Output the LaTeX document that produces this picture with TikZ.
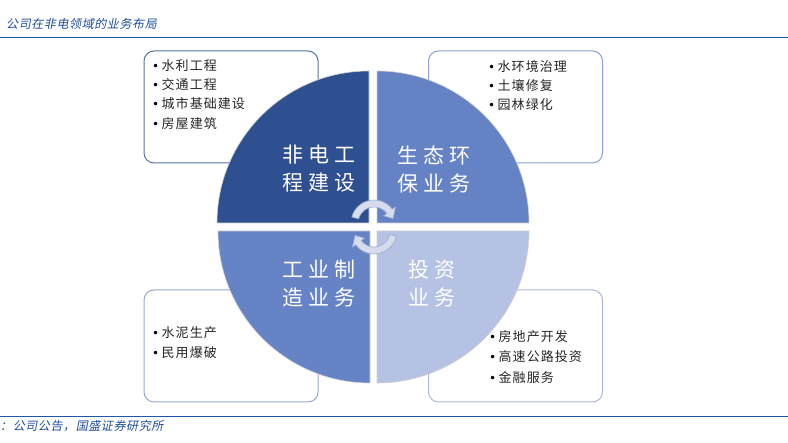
\documentclass[tikz,border=0pt]{standalone}
\usepackage{fontspec}
\setmainfont{Noto Sans CJK SC}
\newfontfamily\cjkq[LetterSpace=22]{Noto Sans CJK SC}
\newfontfamily\cjkb[LetterSpace=8]{Noto Sans CJK SC}
\newfontfamily\cjkt[FakeSlant=0.2,LetterSpace=5]{Noto Sans CJK SC}
\newfontfamily\bulfont{DejaVu Sans}
\newcommand\mybul{\makebox[9.5pt][l]{\raisebox{0.3pt}{\color{black}\bulfont\fontsize{12}{12}\selectfont •}}}
\definecolor{qone}{HTML}{2E5090}
\definecolor{qtwo}{HTML}{6482C4}
\definecolor{qthree}{HTML}{6683C6}
\definecolor{qfour}{HTML}{B5C2E3}
\definecolor{titleblue}{HTML}{1F4E9C}
\definecolor{ruleblue}{HTML}{1F56A8}
\definecolor{arrfill}{HTML}{D5DCEE}
\definecolor{arrline}{HTML}{9AAAD2}
\begin{document}
\begin{tikzpicture}[x=1pt,y=1pt,
  quadtext/.style={text=white, font={\cjkq\fontsize{21}{28}\selectfont}, align=center, inner sep=0pt},
  listtext/.style={anchor=west, inner sep=0pt, text=black!85, font={\cjkb\fontsize{13}{16}\selectfont}},
  infobox/.style={rounded corners=10pt, line width=1pt, fill=white, minimum width=174pt, minimum height=112pt, inner sep=0pt},
  quad/.style={draw=black!18, line width=0.6pt},
  circarrow/.style={fill=arrfill, draw=arrline, line width=0.6pt, line join=round},
  captext/.style={anchor=west, inner sep=0pt, text=titleblue, font={\cjkt\fontsize{12}{14}\selectfont}}
]
\useasboundingbox (0,0) rectangle (788,443);
\fill[white] (0,0) rectangle (788,443);

% header and footer
\node[captext] (title) at (6,419) {公司在非电领域的业务布局};
\draw[ruleblue, line width=1.8pt] (0,405.5) -- (788,405.5);
\draw[ruleblue, line width=1.8pt] (0,26.5) -- (788,26.5);
\node[captext] (source) at (0,17) {：公司公告，国盛证券研究所};

% info boxes
\node[infobox, draw=qone!80] (boxtl) at (231,336) {};
\node[infobox, draw=qtwo!75] (boxtr) at (515.5,336) {};
\node[infobox, draw=qthree!70] (boxbl) at (231,97) {};
\node[infobox, draw=qfour!95!black] (boxbr) at (515.5,97) {};

% list texts
\node[listtext] (l11) at (152,377) {\mybul 水利工程};
\node[listtext] (l12) at (152,358) {\mybul 交通工程};
\node[listtext] (l13) at (152,339) {\mybul 城市基础建设};
\node[listtext] (l14) at (152,319) {\mybul 房屋建筑};

\node[listtext] (l21) at (488,376) {\mybul 水环境治理};
\node[listtext] (l22) at (488,357) {\mybul 土壤修复};
\node[listtext] (l23) at (488,338) {\mybul 园林绿化};

\node[listtext] (l31) at (152,110) {\mybul 水泥生产};
\node[listtext] (l32) at (152,90) {\mybul 民用爆破};

\node[listtext] (l41) at (489,106) {\mybul 房地产开发};
\node[listtext] (l42) at (489,86) {\mybul 高速公路投资};
\node[listtext] (l43) at (489,65) {\mybul 金融服务};

% quadrants
\filldraw[quad, fill=qone] (369,220) -- ++(-152,0) arc[start angle=180, end angle=90, radius=152] -- cycle;
\filldraw[quad, fill=qtwo] (377,220) -- ++(0,152) arc[start angle=90, end angle=0, radius=152] -- cycle;
\filldraw[quad, fill=qthree] (370,212) -- ++(0,-152) arc[start angle=270, end angle=180, radius=152] -- cycle;
\filldraw[quad, fill=qfour] (377,212) -- ++(152,0) arc[start angle=0, end angle=-90, radius=152] -- cycle;

% quadrant labels
\node[quadtext] (qa) at (319,274) {非电工\\程建设};
\node[quadtext] (qb) at (434,274) {生态环\\保业务};
\node[quadtext] (qc) at (319,159) {工业制\\造业务};
\node[quadtext] (qd) at (432,159) {投资\\业务};

% circular arrows
\begin{scope}[shift={(374,220)}]
  \path[circarrow] (165:23) arc[start angle=165, end angle=37, radius=23]
    -- (37:27) -- (13:19.5) -- (37:12) -- (37:16)
    arc[start angle=37, end angle=165, radius=16] -- cycle;
\end{scope}
\begin{scope}[shift={(374,212)}]
  \path[circarrow] (-13:23) arc[start angle=-13, end angle=-143, radius=23]
    -- (-143:27) -- (-167:19.5) -- (-143:12) -- (-143:16)
    arc[start angle=-143, end angle=-13, radius=16] -- cycle;
\end{scope}
\end{tikzpicture}
\end{document}
